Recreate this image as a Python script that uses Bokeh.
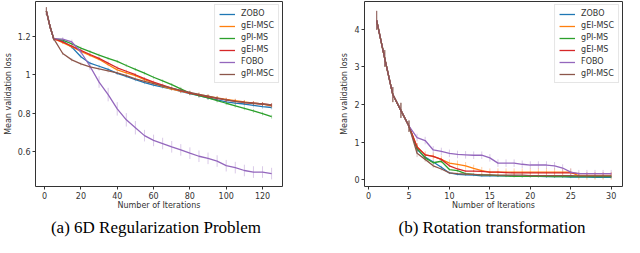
import numpy as np
from bokeh.plotting import figure
from bokeh.layouts import row, column
from bokeh.models import Range1d, Legend, LegendItem, ColumnDataSource, FixedTicker, Div
from bokeh.embed import file_html
from bokeh.resources import INLINE

names = ["ZOBO", "gEI-MSC", "gPI-MS", "gEI-MS", "FOBO", "gPI-MSC"]
colors = ["#1f77b4", "#ff7f0e", "#2ca02c", "#d62728", "#9467bd", "#8c564b"]

# (a) 6D Regularization Problem
xa = [1, 3, 5, 10, 15, 20, 25, 30, 35, 40, 45, 50, 55, 60, 65, 70, 75, 80, 85, 90, 95, 100, 105, 110, 115, 120, 125]
ya_zobo = [1.33, 1.25, 1.187, 1.175, 1.143, 1.093, 1.06, 1.044, 1.028, 1.007, 0.992, 0.974, 0.959, 0.946, 0.936, 0.926, 0.914, 0.902, 0.891, 0.88, 0.869, 0.859, 0.853, 0.848, 0.841, 0.834, 0.83]
ya_gei_msc = [1.33, 1.25, 1.187, 1.167, 1.145, 1.121, 1.1, 1.08, 1.052, 1.025, 1.01, 0.995, 0.975, 0.957, 0.94, 0.925, 0.915, 0.905, 0.897, 0.889, 0.88, 0.872, 0.866, 0.859, 0.853, 0.848, 0.839]
ya_gpi_ms = [1.33, 1.25, 1.187, 1.18, 1.16, 1.138, 1.12, 1.102, 1.085, 1.069, 1.048, 1.028, 1.008, 0.987, 0.968, 0.949, 0.927, 0.905, 0.892, 0.88, 0.866, 0.852, 0.839, 0.826, 0.812, 0.798, 0.782]
ya_gei_ms = [1.33, 1.25, 1.187, 1.17, 1.148, 1.126, 1.105, 1.085, 1.06, 1.036, 1.018, 1.0, 0.98, 0.962, 0.946, 0.93, 0.917, 0.905, 0.895, 0.885, 0.877, 0.869, 0.862, 0.856, 0.852, 0.848, 0.843]
ya_fobo = [1.33, 1.25, 1.187, 1.185, 1.17, 1.118, 1.044, 0.962, 0.897, 0.823, 0.766, 0.725, 0.684, 0.659, 0.643, 0.626, 0.61, 0.593, 0.577, 0.566, 0.552, 0.528, 0.518, 0.503, 0.495, 0.495, 0.487]
ya_gpi_msc = [1.33, 1.25, 1.187, 1.11, 1.077, 1.056, 1.041, 1.03, 1.02, 1.01, 0.995, 0.979, 0.966, 0.954, 0.942, 0.93, 0.919, 0.908, 0.898, 0.889, 0.879, 0.869, 0.862, 0.856, 0.852, 0.848, 0.843]
ea_small = [0.02, 0.01, 0.008, 0.008, 0.008, 0.008, 0.008, 0.008, 0.008, 0.008, 0.008, 0.008, 0.008, 0.008, 0.008, 0.008, 0.01, 0.01, 0.01, 0.01, 0.01, 0.01, 0.01, 0.01, 0.01, 0.01, 0.01]
ea_fobo = [0.02, 0.01, 0.01, 0.01, 0.012, 0.015, 0.02, 0.03, 0.035, 0.035, 0.035, 0.035, 0.03, 0.03, 0.03, 0.03, 0.03, 0.03, 0.03, 0.03, 0.03, 0.03, 0.03, 0.03, 0.03, 0.03, 0.03]
xticks_a = [0, 20, 40, 60, 80, 100, 120]
yticks_a = [0.6, 0.8, 1.0, 1.2]

# (b) Rotation transformation
xb = list(range(1, 31))
yb_zobo = [4.23, 3.22, 2.26, 1.84, 1.42, 0.80, 0.60, 0.47, 0.33, 0.18, 0.14, 0.13, 0.12, 0.10, 0.10, 0.10, 0.10, 0.10, 0.09, 0.09, 0.09, 0.08, 0.08, 0.08, 0.07, 0.07, 0.07, 0.06, 0.06, 0.06]
yb_gei_msc = [4.23, 3.22, 2.26, 1.84, 1.42, 0.87, 0.66, 0.62, 0.54, 0.44, 0.41, 0.37, 0.30, 0.24, 0.20, 0.20, 0.20, 0.20, 0.20, 0.20, 0.20, 0.20, 0.20, 0.20, 0.20, 0.10, 0.10, 0.10, 0.10, 0.10]
yb_gpi_ms = [4.23, 3.22, 2.26, 1.84, 1.42, 0.83, 0.58, 0.45, 0.49, 0.27, 0.24, 0.16, 0.14, 0.13, 0.12, 0.11, 0.10, 0.09, 0.09, 0.09, 0.09, 0.09, 0.08, 0.08, 0.08, 0.08, 0.08, 0.08, 0.08, 0.08]
yb_gei_ms = [4.23, 3.22, 2.26, 1.84, 1.42, 0.87, 0.66, 0.62, 0.54, 0.37, 0.285, 0.23, 0.23, 0.22, 0.20, 0.20, 0.19, 0.18, 0.18, 0.18, 0.18, 0.18, 0.18, 0.18, 0.18, 0.16, 0.16, 0.16, 0.16, 0.16]
yb_fobo = [4.23, 3.22, 2.26, 1.84, 1.42, 1.12, 1.04, 0.79, 0.75, 0.70, 0.67, 0.66, 0.65, 0.65, 0.58, 0.44, 0.44, 0.44, 0.41, 0.39, 0.39, 0.39, 0.37, 0.31, 0.20, 0.16, 0.16, 0.16, 0.16, 0.16]
yb_gpi_msc = [4.23, 3.22, 2.26, 1.84, 1.42, 0.70, 0.54, 0.37, 0.285, 0.18, 0.16, 0.15, 0.14, 0.13, 0.13, 0.12, 0.12, 0.12, 0.12, 0.11, 0.11, 0.11, 0.11, 0.11, 0.11, 0.10, 0.10, 0.10, 0.10, 0.10]
eb_small = [0.25, 0.22, 0.2, 0.2, 0.15, 0.1, 0.06, 0.05, 0.04, 0.03, 0.03, 0.03, 0.03, 0.03, 0.03, 0.03, 0.03, 0.03, 0.03, 0.03, 0.03, 0.03, 0.03, 0.03, 0.03, 0.03, 0.03, 0.03, 0.03, 0.03]
eb_wide = [0.25, 0.22, 0.2, 0.2, 0.15, 0.1, 0.1, 0.1, 0.1, 0.1, 0.1, 0.1, 0.1, 0.1, 0.1, 0.1, 0.1, 0.1, 0.1, 0.1, 0.1, 0.1, 0.1, 0.1, 0.1, 0.1, 0.1, 0.1, 0.1, 0.1]
xticks_b = [0, 5, 10, 15, 20, 25, 30]
yticks_b = [0, 1, 2, 3, 4]

captions = ["(a) 6D Regularization Problem", "(b) Rotation transformation"]

TICK_FONT = "DejaVu Sans"


def make_fig(width, mbl, mbr, xr, yr, xticks, yticks, xs, series, errs):
    p = figure(width=width, height=212, output_backend="svg", toolbar_location=None,
               x_range=Range1d(*xr), y_range=Range1d(*yr),
               min_border_left=mbl, min_border_right=mbr, min_border_top=1, min_border_bottom=0)
    p.background_fill_color = "white"
    p.border_fill_color = "white"
    p.outline_line_color = "#333333"
    p.outline_line_width = 1
    p.xgrid.visible = False
    p.ygrid.visible = False
    for ax in (p.xaxis[0], p.yaxis[0]):
        ax.axis_line_color = None
        ax.major_tick_out = 3
        ax.major_tick_in = 0
        ax.minor_tick_line_color = None
        ax.major_tick_line_color = "#333333"
        ax.major_label_text_font = TICK_FONT
        ax.major_label_text_font_size = "8px"
        ax.major_label_text_color = "#333333"
        ax.major_label_standoff = 2
        ax.axis_label_text_font = TICK_FONT
        ax.axis_label_text_font_size = "8px"
        ax.axis_label_text_font_style = "normal"
        ax.axis_label_text_color = "#333333"
        ax.axis_label_standoff = 2
    p.xaxis.axis_label_standoff = -1
    p.xaxis.ticker = FixedTicker(ticks=xticks)
    p.yaxis.ticker = FixedTicker(ticks=yticks)
    p.xaxis.axis_label = "Number of Iterations"
    p.yaxis.axis_label = "Mean validation loss"

    items = []
    for name, color, ys, es in zip(names, colors, series, errs):
        src = ColumnDataSource(dict(x=xs, y=ys,
                                    lo=[a - b for a, b in zip(ys, es)],
                                    hi=[a + b for a, b in zip(ys, es)]))
        p.segment(x0="x", y0="lo", x1="x", y1="hi", source=src,
                  line_color=color, line_alpha=0.35, line_width=1)
        ln = p.line("x", "y", source=src, line_color=color, line_width=1.3)
        mk = p.scatter(x=[], y=[], marker="dash", angle=np.pi / 2, size=8,
                       line_color=color, line_alpha=0.5, line_width=1)
        items.append(LegendItem(label=name, renderers=[ln, mk]))

    leg = Legend(items=items, location="top_right")
    leg.label_text_font = TICK_FONT
    leg.label_text_font_size = "8px"
    leg.label_text_color = "#333333"
    leg.label_height = 8
    leg.glyph_height = 8
    leg.glyph_width = 16
    leg.spacing = 3
    leg.padding = 4
    leg.margin = 3
    leg.label_standoff = 6
    leg.border_line_color = "#cccccc"
    leg.background_fill_alpha = 0.9
    p.add_layout(leg)
    return p


def make_caption(text, width, pad_left):
    return Div(text=text, width=width, height=25, margin=0,
               styles={"font-family": "'Liberation Serif', serif", "font-size": "17px",
                       "color": "black", "text-align": "center",
                       "padding-left": f"{pad_left}px", "padding-top": "6px",
                       "box-sizing": "border-box", "line-height": "19px"})


pa = make_fig(312, 24, 30, (-5, 131), (0.42, 1.38), xticks_a, yticks_a, xa,
              [ya_zobo, ya_gei_msc, ya_gpi_ms, ya_gei_ms, ya_fobo, ya_gpi_msc],
              [ea_small, ea_small, ea_small, ea_small, ea_fobo, ea_small])
pb = make_fig(312, 52, 2, (-0.5, 31.4), (-0.18, 4.73), xticks_b, yticks_b, xb,
              [yb_zobo, yb_gei_msc, yb_gpi_ms, yb_gei_ms, yb_fobo, yb_gpi_msc],
              [eb_small, eb_wide, eb_small, eb_small, eb_wide, eb_small])

ca = make_caption(captions[0], 312, 0)
cb = make_caption(captions[1], 312, 48)

layout = column(row(pa, pb), row(ca, cb))
open("out.html", "w").write(file_html(layout, INLINE))
